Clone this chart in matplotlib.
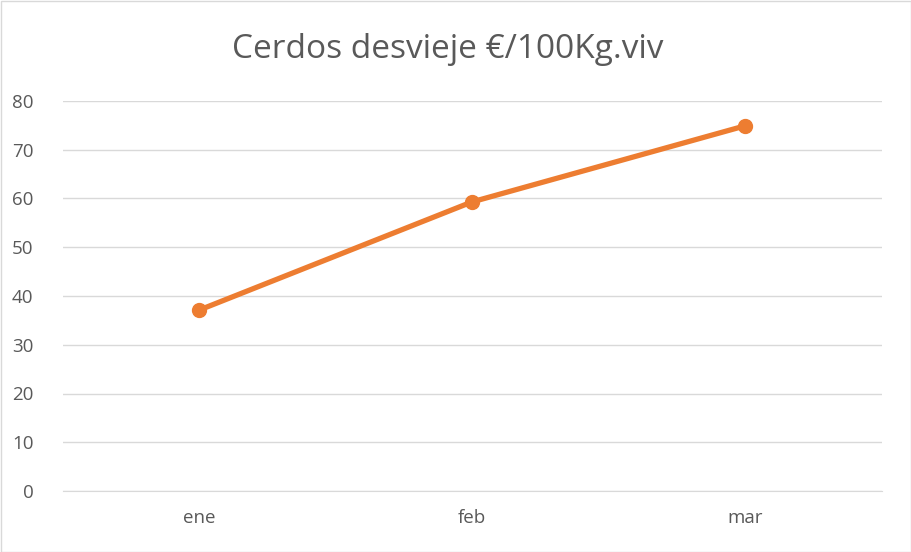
import matplotlib
matplotlib.use("Agg")
import matplotlib.pyplot as plt
from matplotlib.patches import Rectangle

categories = ["ene", "feb", "mar"]
values = [37.1, 59.3, 74.9]
yticks = [0, 10, 20, 30, 40, 50, 60, 70, 80]
title = "Cerdos desvieje €/100Kg.viv"

plt.rcParams['font.family'] = ['Open Sans', 'DejaVu Sans']

fig = plt.figure(figsize=(9.11, 5.52), dpi=100)
ax = fig.add_axes([62.5/911, 61/552, 819/911, 390/552])
x = list(range(len(categories)))
ax.plot(x, values, color="#ED7D31", linewidth=3.8, marker="o", markersize=10,
        solid_capstyle="round", zorder=3)
ax.set_xlim(-0.5, len(categories) - 0.5)
ax.set_ylim(0, 80)
ax.set_yticks(yticks)
ax.set_yticklabels([str(t) for t in yticks])
ax.set_xticks(x)
ax.set_xticklabels(categories)
ax.grid(axis="y", color="#D9D9D9", linewidth=1)
ax.set_axisbelow(True)
for s in ["top", "right", "left"]:
    ax.spines[s].set_visible(False)
ax.spines["bottom"].set_color("#D9D9D9")
ax.tick_params(axis="both", length=0, colors="#595959", labelsize=13.5)
ax.tick_params(axis="y", pad=21)
ax.tick_params(axis="x", pad=13)
fig.text(0.491, 0.91, title, ha="center", va="center", fontsize=24, color="#595959")
fig.patches.append(Rectangle((0.5/911, 0.5/552), 1 - 1/911, 1 - 1/552, transform=fig.transFigure,
                             fill=False, edgecolor="#D9D9D9", linewidth=1))
fig.savefig("out.png", dpi=100)
